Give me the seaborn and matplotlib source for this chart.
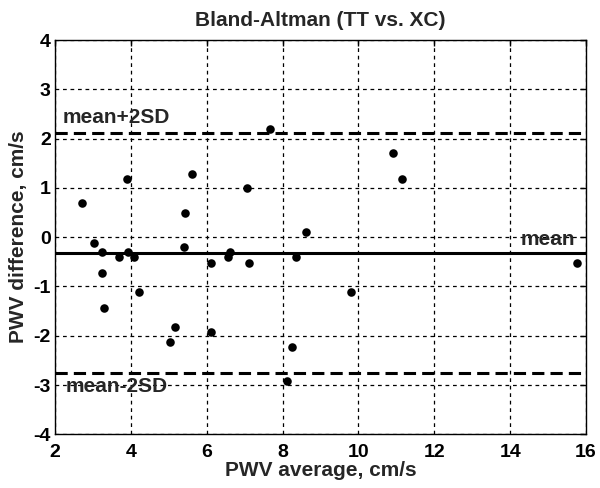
import matplotlib
matplotlib.use("Agg")
import matplotlib.pyplot as plt
import seaborn as sns
import pandas as pd

# PWV average (x) and PWV difference (y)
pwv_average = [2.72, 3.02, 3.25, 3.25, 3.28, 3.69, 3.89, 3.93, 4.08, 4.22,
               5.02, 5.17, 5.39, 5.43, 5.62, 6.12, 6.12, 6.56, 6.62, 7.07,
               7.12, 7.66, 8.11, 8.26, 8.35, 8.61, 9.81, 10.90, 11.14, 15.77]
pwv_difference = [0.70, -0.11, -0.31, -0.72, -1.43, -0.41, 1.19, -0.30, -0.40, -1.12,
                  -2.12, -1.82, -0.20, 0.50, 1.29, -0.52, -1.92, -0.40, -0.30, 0.99,
                  -0.52, 2.19, -2.92, -2.22, -0.40, 0.10, -1.12, 1.70, 1.19, -0.52]
mean_diff = -0.33
upper_limit = 2.12
lower_limit = -2.75

x_ticks = [2, 4, 6, 8, 10, 12, 14, 16]
y_ticks = [-4, -3, -2, -1, 0, 1, 2, 3, 4]

data = pd.DataFrame({'avg': pwv_average, 'diff': pwv_difference})

sns.set_theme(style="white")
plt.rcParams['font.family'] = ['Liberation Sans', 'DejaVu Sans']
plt.rcParams['font.weight'] = 'bold'
plt.rcParams['axes.unicode_minus'] = False

fig = plt.figure(figsize=(6.0, 4.88), dpi=100)
ax = fig.add_axes([0.0917, 0.110, 0.885, 0.808])

ax.axhline(mean_diff, color='black', lw=2.2, zorder=2)
ax.axhline(upper_limit, color='black', lw=2.2, ls=(0, (4, 2)), zorder=2)
ax.axhline(lower_limit, color='black', lw=2.2, ls=(0, (4, 2)), zorder=2)

sns.scatterplot(data=data, x='avg', y='diff', ax=ax, color='black', s=38,
                edgecolor='black', linewidth=0, zorder=3)

ax.set_xlim(2, 16)
ax.set_ylim(-4, 4)
ax.set_xticks(x_ticks)
ax.set_yticks(y_ticks)
ax.grid(True, color='black', ls=(0, (3, 3)), lw=0.9)
for s in ax.spines.values():
    s.set_color('black')
    s.set_linewidth(1.0)
ax.tick_params(direction='in', length=4, width=1, colors='black',
               labelsize=14, top=True, right=True,
               labeltop=False, labelright=False)
ax.tick_params(axis='x', pad=7)
ax.tick_params(axis='y', pad=3)
for lab in ax.get_xticklabels() + ax.get_yticklabels():
    lab.set_fontweight('bold')

ax.text(2.2, upper_limit + 0.12, 'mean+2SD', fontsize=15, fontweight='bold', va='bottom')
ax.text(2.28, lower_limit - 0.08, 'mean-2SD', fontsize=15, fontweight='bold', va='top')
ax.text(15.7, mean_diff + 0.1, 'mean', fontsize=15, fontweight='bold', ha='right', va='bottom')

ax.set_title('Bland-Altman (TT vs. XC)', fontsize=15, fontweight='bold', pad=10)
ax.set_xlabel('PWV average, cm/s', fontsize=15, fontweight='bold', labelpad=0)
ax.set_ylabel('PWV difference, cm/s', fontsize=15, fontweight='bold', labelpad=4)

fig.savefig('out.png', dpi=100)
